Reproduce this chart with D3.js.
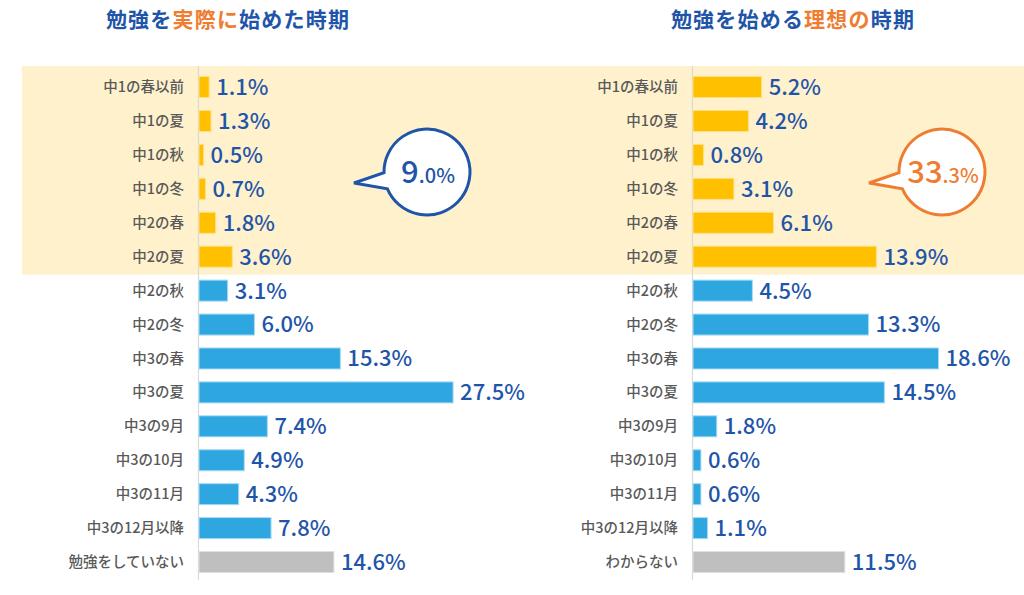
<!DOCTYPE html>
<html><head><meta charset="utf-8">
<script src="https://cdn.jsdelivr.net/npm/d3@7"></script>
<style>
body{margin:0;background:#fff;}
svg{display:block;font-family:"Noto Sans CJK JP","Noto Sans",sans-serif;}
</style></head>
<body>
<svg id="c" width="1024" height="595"></svg>
<script>
const leftCategories = ["中1の春以前","中1の夏","中1の秋","中1の冬","中2の春","中2の夏","中2の秋","中2の冬","中3の春","中3の夏","中3の9月","中3の10月","中3の11月","中3の12月以降","勉強をしていない"];
const leftValues = [1.1,1.3,0.5,0.7,1.8,3.6,3.1,6.0,15.3,27.5,7.4,4.9,4.3,7.8,14.6];
const rightCategories = ["中1の春以前","中1の夏","中1の秋","中1の冬","中2の春","中2の夏","中2の秋","中2の冬","中3の春","中3の夏","中3の9月","中3の10月","中3の11月","中3の12月以降","わからない"];
const rightValues = [5.2,4.2,0.8,3.1,6.1,13.9,4.5,13.3,18.6,14.5,1.8,0.6,0.6,1.1,11.5];
const groups = ["early","early","early","early","early","early","late","late","late","late","late","late","late","late","none"];
const leftTitle = [["勉強を","b"],["実際に","o"],["始めた時期","b"]];
const rightTitle = [["勉強を始める","b"],["理想の","o"],["時期","b"]];
const leftBubble = ["9",".0%"];
const rightBubble = ["33",".3%"];

const fillColor = {early:"#FFC000", late:"#2EA7E0", none:"#BFBFBF"};
const strokeColor = {early:"#FFE08A", late:"#A9DBF5", none:"#E0E0E0"};
const blue = "#1F55A8", orange = "#EF7D31";

const svg = d3.select("#c");

const y = d3.scaleBand().domain(d3.range(15)).range([70.1, 579]).paddingInner(0.38).paddingOuter(0.19);

svg.append("rect").attr("x",22).attr("y",66).attr("width",1002)
  .attr("height", y(5)+y.bandwidth()+ (y.step()-y.bandwidth())/2 - 66 + 1)
  .attr("fill","#FFF1CC");

function panel(cats, vals, x0, maxV, pxPer, titleParts, titleCx, bubble, bubbleCx, bubbleColor){
  const x = d3.scaleLinear().domain([0, maxV]).range([x0, x0 + maxV*pxPer]);
  const g = svg.append("g");
  g.append("line").attr("x1",x0-0.5).attr("x2",x0-0.5).attr("y1",66).attr("y2",580)
    .attr("stroke","#D9D9D9").attr("stroke-width",1.2);
  g.selectAll("text.cat").data(cats).join("text").attr("class","cat")
    .attr("x", x0-15).attr("y", (d,i)=>y(i)+y.bandwidth()/2).attr("dy","0.35em")
    .attr("text-anchor","end").attr("font-size",14.5).attr("font-weight",500).attr("fill","#595959").text(d=>d);
  g.selectAll("rect.bar").data(vals).join("rect").attr("class","bar")
    .attr("x", x(0)).attr("y",(d,i)=>y(i)).attr("height",y.bandwidth())
    .attr("width", d=>x(d)-x(0))
    .attr("fill",(d,i)=>fillColor[groups[i]])
    .attr("stroke",(d,i)=>strokeColor[groups[i]]).attr("stroke-width",1);
  g.selectAll("text.val").data(vals).join("text").attr("class","val")
    .attr("x", d=>x(d)+7).attr("y",(d,i)=>y(i)+y.bandwidth()/2).attr("dy","0.36em")
    .attr("font-size",22).attr("font-weight",500).attr("fill",blue)
    .text(d=>d.toFixed(1)+"%");
  const t = svg.append("text").attr("x",titleCx).attr("y",27).attr("text-anchor","middle")
    .attr("font-size",21).attr("font-weight","bold").attr("letter-spacing",1.2);
  titleParts.forEach(p=>t.append("tspan").attr("fill", p[1]==="o"?orange:blue).text(p[0]));
  const cx = bubbleCx, cy = 172, r = 43;
  const a1 = 179*Math.PI/180, a2 = 157*Math.PI/180;
  const p1 = [cx + r*Math.cos(a1), cy + r*Math.sin(a1)];
  const p2 = [cx + r*Math.cos(a2), cy + r*Math.sin(a2)];
  const tip = [cx-73, cy+11];
  svg.append("path")
    .attr("d", `M${tip[0]},${tip[1]} L${p1[0]},${p1[1]} A${r},${r} 0 1 1 ${p2[0]},${p2[1]} Z`)
    .attr("fill","#fff").attr("stroke",bubbleColor).attr("stroke-width",3).attr("stroke-linejoin","miter");
  const bt = svg.append("text").attr("x",cx+1).attr("y",cy+11).attr("text-anchor","middle")
    .attr("fill",bubbleColor).attr("font-weight",500);
  bt.append("tspan").attr("font-size",31).text(bubble[0]);
  bt.append("tspan").attr("font-size",20).text(bubble[1]);
}

panel(leftCategories, leftValues, 199, 30, 9.24, leftTitle, 228, leftBubble, 427, blue);
panel(rightCategories, rightValues, 693, 20, 13.2, rightTitle, 793, rightBubble, 942, orange);
</script>
</body></html>
